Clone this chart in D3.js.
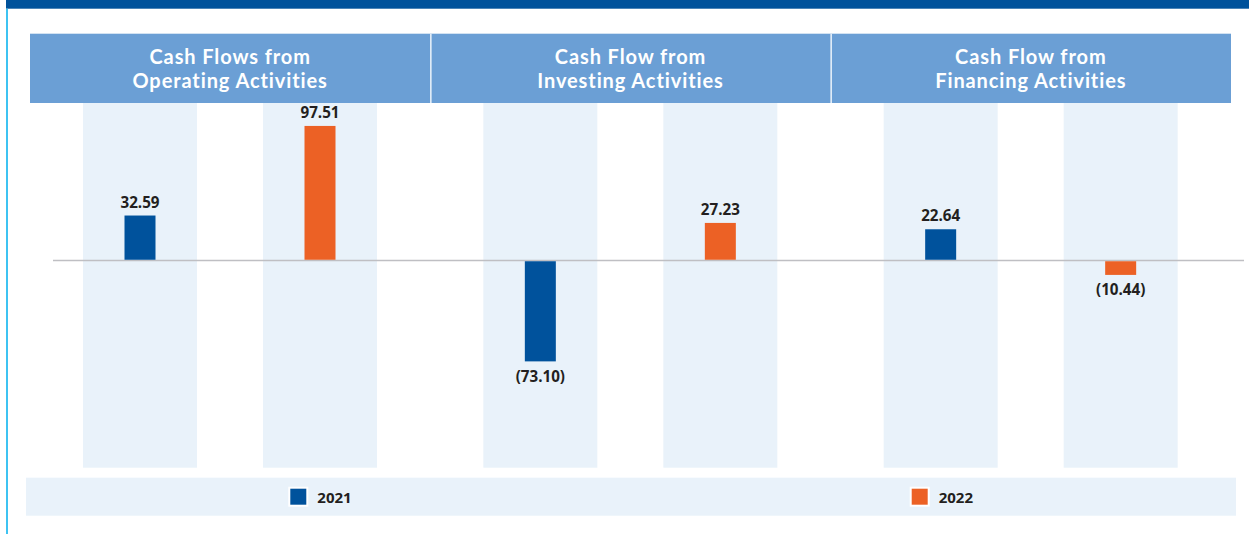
<!DOCTYPE html>
<html>
<head>
<meta charset="utf-8">
<script src="https://cdn.jsdelivr.net/npm/d3@7"></script>
<style>
  html, body { margin: 0; padding: 0; background: #ffffff; }
  svg { display: block; }
  text { font-family: "Open Sans", "Noto Sans", sans-serif; }
  text.head { font-family: Lato, "Open Sans", sans-serif; }
</style>
</head>
<body>
<svg id="chart" width="1249" height="534"></svg>
<script>
// Cash flow summary (values in millions; negatives shown in brackets)
const categories = [
  ["Cash Flows from", "Operating Activities"],
  ["Cash Flow from", "Investing Activities"],
  ["Cash Flow from", "Financing Activities"]
];
const years = ["2021", "2022"];
const values2021 = [32.59, -73.10, 22.64];
const values2022 = [97.51, 27.23, -10.44];

const colors = { "2021": "#00529c", "2022": "#ec6125" };

const W = 1249, H = 534;
const svg = d3.select("#chart");

// page frame: top band and left rule
svg.append("rect").attr("x", 6).attr("y", 0).attr("width", W - 6).attr("height", 8.7).attr("fill", "#00529b");
svg.append("rect").attr("x", 6).attr("y", 8.7).attr("width", 2).attr("height", H - 8.7).attr("fill", "#3ec3f2");

const catKeys = categories.map(c => c.join(" "));
const x0 = d3.scaleBand().domain(catKeys).range([30, 1231]);
const x1 = d3.scalePoint().domain(years).range([110, 290]);
const y = d3.scaleLinear().domain([-100, 100]).range([260.5 + 138, 260.5 - 138]);

const headerTop = 33.7, headerBottom = 103, colBottom = 467.7;
const colW = 114, barW = 31;

// header band
svg.append("rect")
  .attr("x", x0.range()[0]).attr("y", headerTop)
  .attr("width", x0.range()[1] - x0.range()[0]).attr("height", headerBottom - headerTop)
  .attr("fill", "#6b9fd5");

// header separators
svg.selectAll("line.sep").data(catKeys.slice(1)).join("line")
  .attr("class", "sep")
  .attr("x1", d => x0(d) + 0.5).attr("x2", d => x0(d) + 0.5)
  .attr("y1", headerTop).attr("y2", headerBottom)
  .attr("stroke", "#e4eef8").attr("stroke-width", 1.6);

// header titles, one text per line
categories.forEach((lines, i) => {
  const cx = x0(catKeys[i]) + x0.bandwidth() / 2;
  svg.selectAll(null).data(lines).join("text")
    .attr("class", "head")
    .attr("x", cx)
    .attr("y", (t, j) => 63.6 + j * 24)
    .attr("text-anchor", "middle")
    .attr("fill", "#ffffff")
    .attr("font-weight", "bold")
    .attr("font-size", 20)
    .attr("letter-spacing", 0.9)
    .text(t => t);
});

// assemble per-column records
const rows = [];
catKeys.forEach((c, i) => {
  rows.push({ cat: c, year: "2021", value: values2021[i] });
  rows.push({ cat: c, year: "2022", value: values2022[i] });
});
const cx = d => x0(d.cat) + x1(d.year);

// column backgrounds
svg.selectAll("rect.col").data(rows).join("rect")
  .attr("class", "col")
  .attr("x", d => cx(d) - colW / 2).attr("y", headerBottom)
  .attr("width", colW).attr("height", colBottom - headerBottom)
  .attr("fill", "#e9f2fa");

// zero line
svg.append("line")
  .attr("x1", 53).attr("x2", 1244)
  .attr("y1", y(0)).attr("y2", y(0))
  .attr("stroke", "#bfbfc3").attr("stroke-width", 1.5);

// bars
svg.selectAll("rect.bar").data(rows).join("rect")
  .attr("class", "bar")
  .attr("x", d => cx(d) - barW / 2)
  .attr("y", d => Math.min(y(d.value), y(0) + 0.75))
  .attr("width", barW)
  .attr("height", d => Math.abs(y(d.value) - y(0)) - 0.75)
  .attr("fill", d => colors[d.year]);

// value labels
const fmt = d3.format(".2f");
svg.selectAll("text.val").data(rows).join("text")
  .attr("class", "val")
  .attr("x", cx)
  .attr("y", d => d.value >= 0 ? y(d.value) - 8 : y(d.value) + 20.5)
  .attr("text-anchor", "middle")
  .attr("font-weight", "bold")
  .attr("font-size", 15.2)
  .attr("fill", "#231f20")
  .text(d => d.value >= 0 ? fmt(d.value) : "(" + fmt(-d.value) + ")");

// legend
svg.append("rect").attr("x", 26).attr("y", 477.7).attr("width", 1210).attr("height", 38).attr("fill", "#e9f2fa");
const legendX = d3.scalePoint().domain(years).range([289.3, 910.7]);
const lg = svg.selectAll("g.lg").data(years).join("g")
  .attr("class", "lg")
  .attr("transform", d => `translate(${legendX(d)},487.7)`);
lg.append("rect")
  .attr("width", 18).attr("height", 18)
  .attr("fill", d => colors[d])
  .attr("stroke", "#ffffff").attr("stroke-width", 2);
lg.append("text")
  .attr("x", 28).attr("y", 15.3)
  .attr("font-weight", "bold").attr("font-size", 15)
  .attr("fill", "#231f20")
  .text(d => d);
</script>
</body>
</html>
